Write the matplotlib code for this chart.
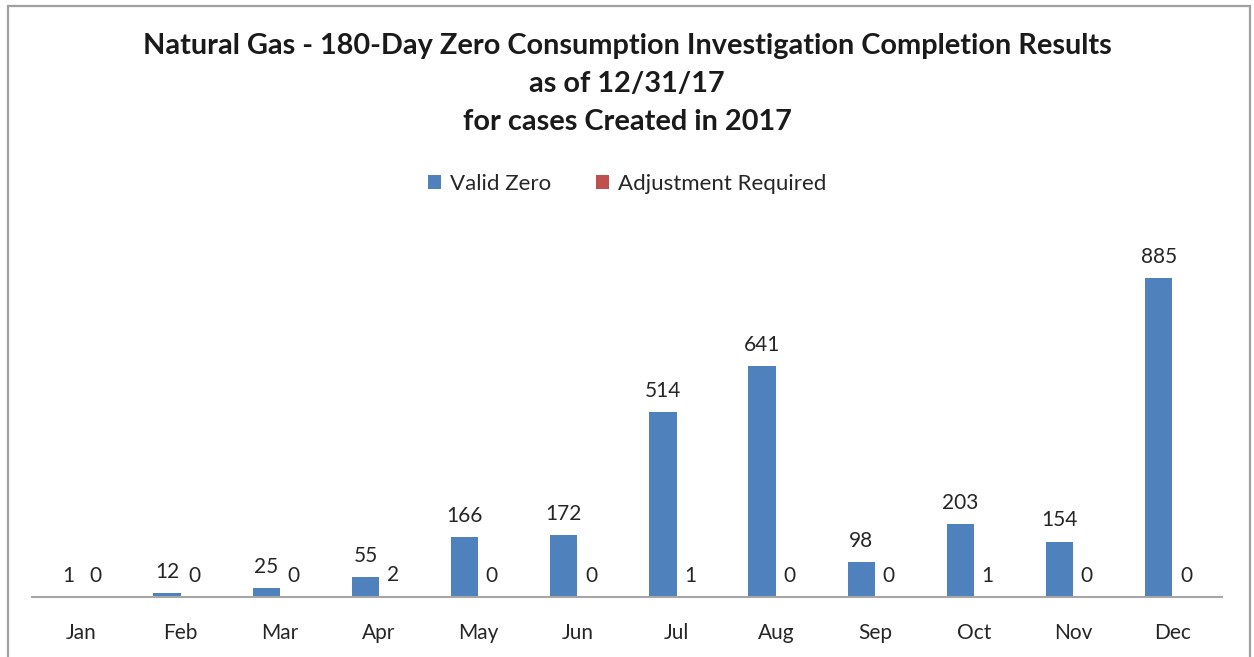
import matplotlib.pyplot as plt
import numpy as np
from matplotlib.patches import Rectangle

months = ["Jan", "Feb", "Mar", "Apr", "May", "Jun", "Jul", "Aug", "Sep", "Oct", "Nov", "Dec"]
valid_zero = [1, 12, 25, 55, 166, 172, 514, 641, 98, 203, 154, 885]
adjustment = [0, 0, 0, 2, 0, 0, 1, 0, 0, 1, 0, 0]

BLUE = "#4F81BD"
RED = "#C0504D"
TEXT = "#262626"

plt.rcParams.update({"font.family": ["Lato", "DejaVu Sans"]})

W, H = 1254, 657
fig = plt.figure(figsize=(W / 100, H / 100), dpi=100)

# outer chart frame
fig.patches.append(
    Rectangle((8 / W, -0.05), (1250 - 8) / W, (H - 6) / H + 0.05,
              transform=fig.transFigure, fill=False, edgecolor="#A0A0A0", linewidth=1.6)
)

ax = fig.add_axes([32 / W, (H - 597) / H, (1222 - 32) / W, (597 - 237) / H])

x = np.arange(len(months))
w = 0.275
ax.bar(x - w / 2, valid_zero, width=w, color=BLUE, label="Valid Zero")
ax.bar(x + w / 2, adjustment, width=w, color=RED, label="Adjustment Required")

for xi, v in zip(x, valid_zero):
    ax.annotate(str(v), (xi - w / 2, v), xytext=(0, 8), textcoords="offset points",
                ha="center", va="bottom", fontsize=15, color=TEXT)
for xi, v in zip(x, adjustment):
    ax.annotate(str(v), (xi + w / 2, v), xytext=(0, 8), textcoords="offset points",
                ha="center", va="bottom", fontsize=15, color=TEXT)

ax.set_xlim(-0.5, len(months) - 0.5)
ax.set_ylim(0, 1000)
ax.set_xticks(x)
ax.set_xticklabels(months, fontsize=15, color=TEXT)
ax.tick_params(axis="x", length=0, pad=19)
ax.set_yticks([])
for side in ["top", "right", "left"]:
    ax.spines[side].set_visible(False)
ax.spines["bottom"].set_color("#A6A6A6")
ax.spines["bottom"].set_linewidth(1.5)

fig.text(0.5, 1 - 84 / H,
         "Natural Gas - 180-Day Zero Consumption Investigation Completion Results\nas of 12/31/17\nfor cases Created in 2017",
         ha="center", va="center", fontsize=20.8, fontweight="bold", color="#1a1a1a",
         linespacing=1.58)

fig.legend(loc="center", bbox_to_anchor=(0.5, 1 - 184 / H), ncol=2, frameon=False,
           fontsize=16, handlelength=0.6, handleheight=0.6, columnspacing=2.0,
           handletextpad=0.4, labelcolor=TEXT)

fig.savefig("out.png", dpi=100)
